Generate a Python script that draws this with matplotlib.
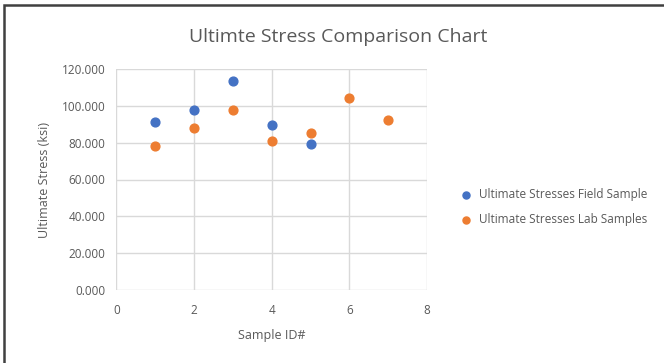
import matplotlib
matplotlib.use("Agg")
import matplotlib.pyplot as plt
from matplotlib.patches import Rectangle

plt.rcParams['font.family'] = ['Open Sans', 'DejaVu Sans']

field_ids = [1, 2, 3, 4, 5]
field_stress = [91.0, 97.6, 113.5, 89.4, 79.4]
lab_ids = [1, 2, 3, 4, 5, 6, 7]
lab_stress = [78.0, 88.1, 97.6, 80.7, 85.2, 104.4, 92.5]
y_ticks = [0, 20, 40, 60, 80, 100, 120]
x_ticks = [0, 2, 4, 6, 8]

fig = plt.figure(figsize=(6.64, 3.63), dpi=100)
fig.patches.append(Rectangle((4/664, -0.1), 1.2, (363-5)/363 + 0.1,
                             transform=fig.transFigure, fill=False,
                             edgecolor='#404040', linewidth=1.8))
ax = fig.add_axes([116.5/664, (363-290)/363, 310.5/664, 221/363])
ax.scatter(field_ids, field_stress, s=40, color='#4472C4', zorder=3,
           label='Ultimate Stresses Field Sample')
ax.scatter(lab_ids, lab_stress, s=40, color='#ED7D31', zorder=3,
           label='Ultimate Stresses Lab Samples')
ax.set_xlim(0, 8)
ax.set_ylim(0, 120)
ax.set_xticks(x_ticks)
ax.set_yticks(y_ticks)
ax.set_yticklabels([f"{v:.3f}" for v in y_ticks])
ax.grid(True, color='#D9D9D9', linewidth=1)
for s in ax.spines.values():
    s.set_visible(False)
ax.tick_params(length=0, colors='#595959', labelsize=8.5, pad=8)
ax.tick_params(axis='x', pad=10)
ax.set_xlabel('Sample ID#', color='#595959', fontsize=9, labelpad=9)
ax.set_ylabel('Ultimate Stress (ksi)', color='#595959', fontsize=9, labelpad=8)
fig.text(338/664, 1 - 37/363, 'Ultimte Stress Comparison Chart', ha='center', va='center',
         fontsize=14, color='#595959')
fig.legend(loc='center left', bbox_to_anchor=(444/664, 1 - 207/363), frameon=False,
           fontsize=8.5, labelcolor='#595959', handletextpad=0.05, labelspacing=1.0,
           markerscale=0.8)
fig.savefig('out.png', dpi=100)
